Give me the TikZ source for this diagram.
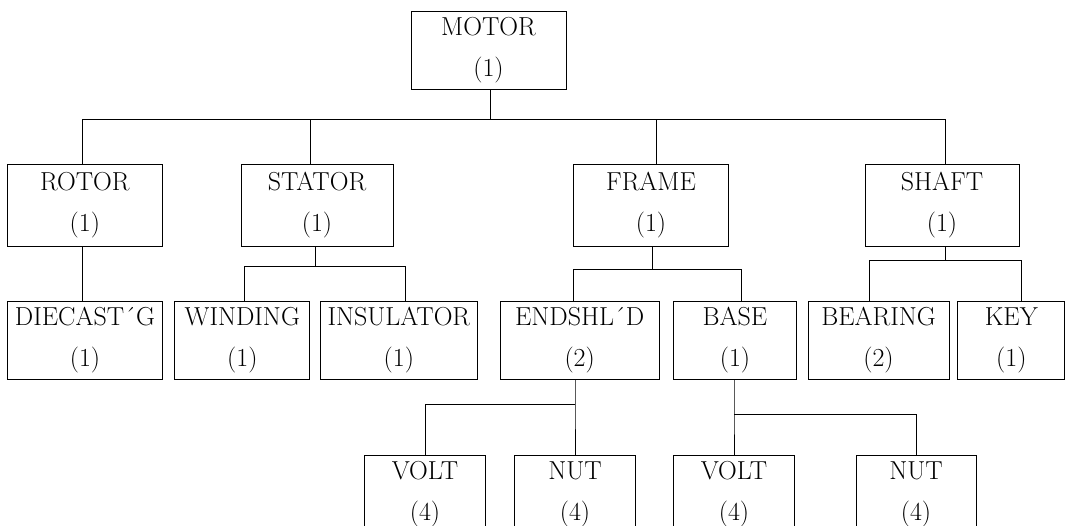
\documentclass[tikz,border=0pt]{standalone}
\usetikzlibrary{positioning}

\begin{document}
\begin{tikzpicture}[
  x=1pt, y=-1pt,
  every node/.style={font=\fontsize{26}{41}\selectfont},
  part/.style={rectangle, draw, line width=0.8pt, align=center,
               inner sep=0pt, minimum height=78pt},
  link/.style={line width=0.8pt}
]

\useasboundingbox (0,0) rectangle (1066,525);
\clip (0,0) rectangle (1066,525);

% top assembly and the four main parts
\node[part, minimum width=155pt]                      (motor)   at (488.5,50)  {MOTOR\\(1)};
\node[part, minimum width=155.5pt, minimum height=82pt] (rotor)  at (84.8,205)  {ROTOR\\(1)};
\node[part, minimum width=152pt, minimum height=82pt]   (stator) at (317,205)   {STATOR\\(1)};
\node[part, minimum width=154.5pt, minimum height=82pt] (frame)  at (651,205)   {FRAME\\(1)};
\node[part, minimum width=154pt, minimum height=82pt]   (shaft)  at (942,205)   {SHAFT\\(1)};

% sub-parts
\node[part, minimum width=155pt]                      (diecast) at (85,340)    {DIECAST\'{}G\\(1)};
\node[part, minimum width=135pt,   right=11.5pt of diecast] (winding) {WINDING\\(1)};
\node[part, minimum width=157.5pt, right=9.5pt of winding]  (insul)   {INSULATOR\\(1)};
\node[part, minimum width=159.4pt, right=21.6pt of insul]   (endshld) {ENDSHL\'{}D\\(2)};
\node[part, minimum width=122.4pt, right=13.6pt of endshld] (base)    {BASE\\(1)};
\node[part, minimum width=141pt,   right=11pt of base]      (bearing) {BEARING\\(2)};
\node[part, minimum width=107pt,   right=8pt of bearing]    (key)     {KEY\\(1)};

% fasteners
\node[part, minimum width=121.5pt] (volta) at (425,494) {VOLT\\(4)};
\node[part, minimum width=121.5pt] (nuta)  at (575,494) {NUT\\(4)};
\node[part, minimum width=120.6pt] (voltb) at (734,494) {VOLT\\(4)};
\node[part, minimum width=120pt]   (nutb)  at (916,494) {NUT\\(4)};

% motor -> main parts
\draw[link] ([xshift=1.5]motor.south) -- ++(0,30) coordinate (busA);
\draw[link] (busA) -| ([xshift=-2]rotor.north);
\draw[link] (busA) -| ([xshift=-7]stator.north);
\draw[link] (busA) -| ([xshift=5]frame.north);
\draw[link] (busA) -| ([xshift=3]shaft.north);

% main parts -> sub-parts
\draw[link] ([xshift=-3]diecast.north |- rotor.south) -- ([xshift=-3]diecast.north);
\draw[link] ([xshift=-2]stator.south) -- ++(0,20) coordinate (busS);
\draw[link] (busS) -| ([xshift=2.5]winding.north);
\draw[link] (busS) -| ([xshift=6.5]insul.north);
\draw[link] ([xshift=1]frame.south) -- ++(0,23) coordinate (busF);
\draw[link] (busF) -| ([xshift=-6]endshld.north);
\draw[link] (busF) -| ([xshift=6]base.north);
\draw[link] ([xshift=3]shaft.south) -- ++(0,14) coordinate (busH);
\draw[link] (busH) -| ([xshift=-9.5]bearing.north);
\draw[link] (busH) -| ([xshift=10.5]key.north);

% sub-parts -> fasteners
\draw[link] (nuta.north |- endshld.south) -- ++(0,25) coordinate (busE) -- (nuta.north);
\draw[link] (busE) -| (volta.north);
\draw[link] (voltb.north |- base.south) -- ++(0,35.4) coordinate (busB) -- (voltb.north);
\draw[link] (busB) -| (nutb.north);

\end{tikzpicture}
\end{document}
